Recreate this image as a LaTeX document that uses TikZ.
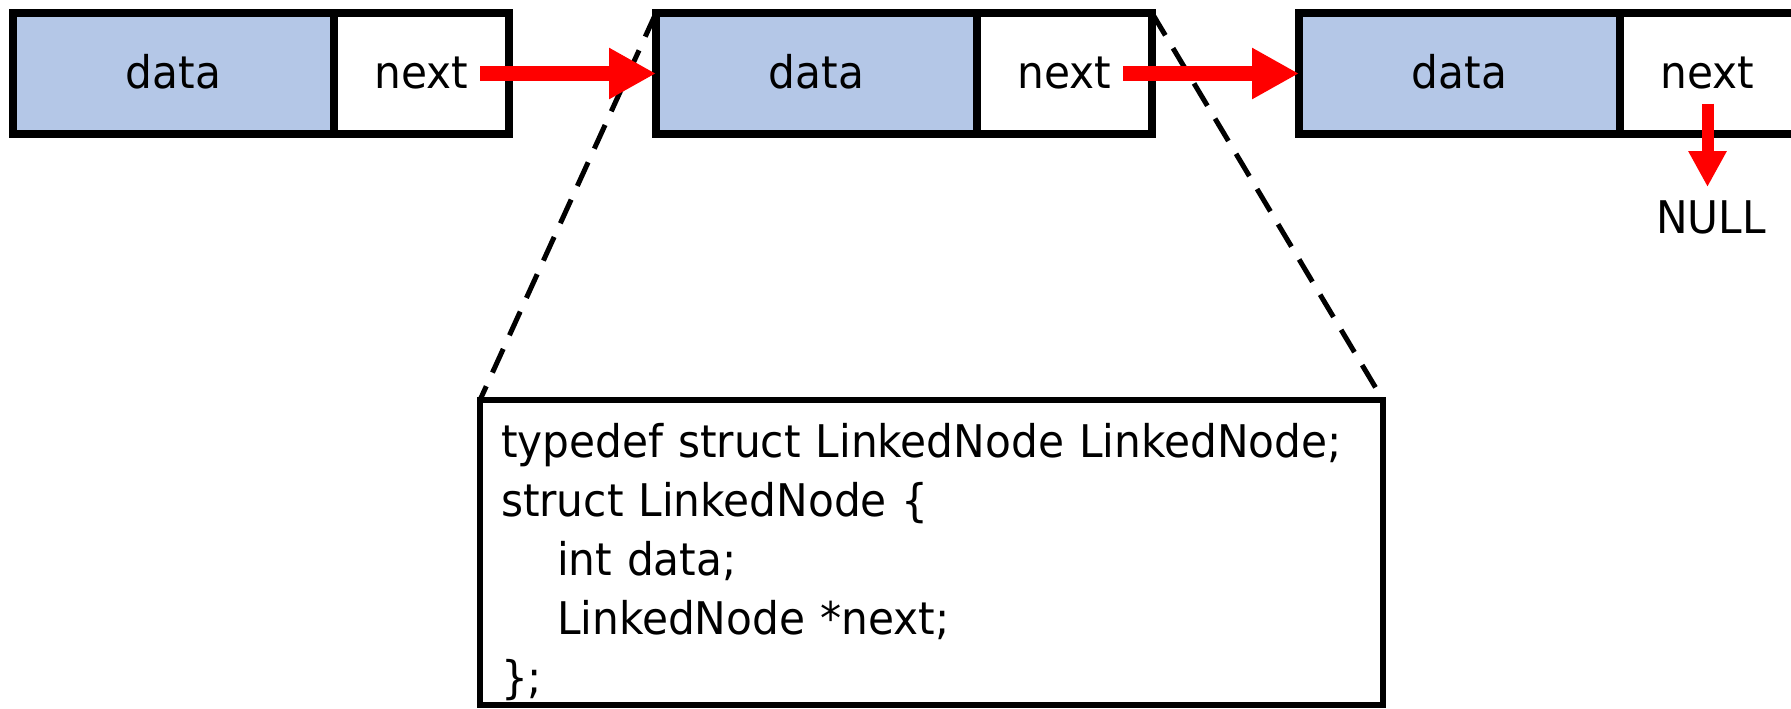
\documentclass[tikz,border=0pt]{standalone}
\usepackage{fontspec}
\setmainfont{DejaVu Sans}[FakeStretch=0.94]
\usetikzlibrary{positioning, arrows.meta}
\definecolor{cellfill}{RGB}{180, 199, 231}
\definecolor{ptrred}{RGB}{255, 0, 0}

\begin{document}
\begin{tikzpicture}[
    listcell/.style={
        draw,
        line width=0.15cm,
        outer sep=0pt,
        inner sep=0pt,
        minimum height=2.42cm,
        text height=0.58cm,
        text depth=0cm,
        fill=#1,
        font=\fontsize{25.6}{33}\selectfont
    },
    listcell/.default=white,
    datacell/.style={listcell=cellfill, minimum width=6.42cm},
    nextcell/.style={listcell, minimum width=3.5cm},
    codebox/.style={
        draw,
        line width=0.13cm,
        outer sep=0pt,
        inner xsep=0.42cm,
        inner ysep=0pt,
        text width=17.22cm,
        text height=1.14cm,
        text depth=4.96cm,
        align=left,
        font=\fontsize{25.6}{33.6}\selectfont
    },
    ptr/.style={-{Triangle[length=0.94cm, width=0.96cm]}, line width=0.3cm, ptrred},
    nullptr/.style={-{Triangle[length=0.72cm, width=0.72cm]}, line width=0.24cm, ptrred},
    zoomline/.style={line width=0.1cm, dash pattern=on 0.52cm off 0.3cm},
    nulllbl/.style={inner sep=0pt, font=\fontsize{25.6}{33}\selectfont}
]
\clip (0,0) rectangle (35.82,-14.16);

% === List nodes ===
\node[datacell, anchor=north west] (d1) at (0.26,-0.26) {data};
\node[nextcell, right=0pt of d1] (n1) {next};

\node[datacell, right=2.94cm of n1] (d2) {data};
\node[nextcell, right=0pt of d2] (n2) {next};

\node[datacell, right=2.94cm of n2] (d3) {data};
\node[nextcell, right=0pt of d3] (n3) {next};

\node[nulllbl, below=1.32cm of n3, xshift=0.07cm] (nul) {NULL};

% === Struct definition ===
\node[codebox, anchor=north west] (code) at (9.6,-8.0) {
typedef struct LinkedNode LinkedNode;\\
struct LinkedNode \{\\
\hspace*{1.12cm}int data;\\
\hspace*{1.12cm}LinkedNode *next;\\
\};
};

% === Zoom lines ===
\draw[zoomline] (d2.north west) -- (code.north west);
\draw[zoomline] (n2.north east) -- (code.north east);

% === Pointers ===
\draw[ptr] ([xshift=1.17cm]n1.center) -- (d2.west);
\draw[ptr] ([xshift=1.17cm]n2.center) -- (d3.west);
\draw[nullptr, shorten >=0.26cm] ([yshift=-0.6cm]n3.center) -- (n3.center |- nul.north);

\end{tikzpicture}
\end{document}
